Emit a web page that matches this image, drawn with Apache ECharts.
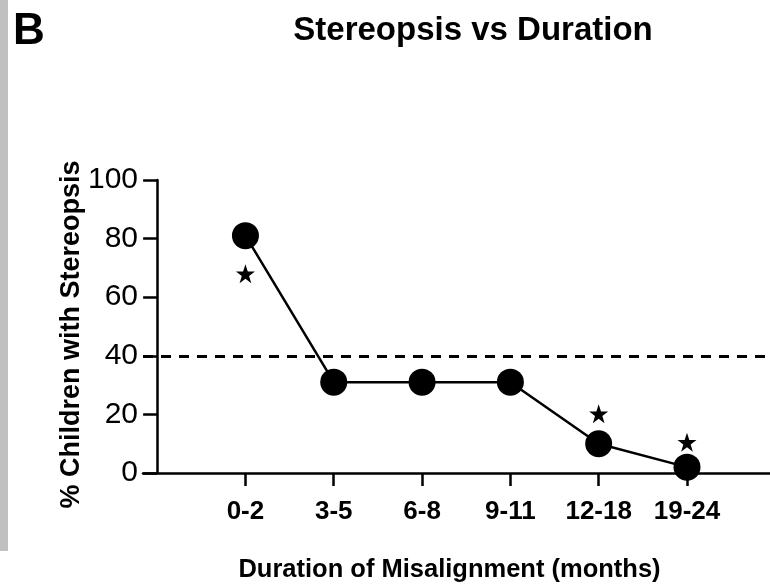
<!DOCTYPE html>
<html>
<head>
<meta charset="utf-8">
<script src="https://cdn.jsdelivr.net/npm/echarts@6/dist/echarts.min.js"></script>
<style>html,body{margin:0;padding:0;background:#fff;}#c{width:770px;height:587px;}</style>
</head>
<body>
<div id="c"></div>
<script>
const categories = ['0-2', '3-5', '6-8', '9-11', '12-18', '19-24'];
const stereoPct = [81, 31, 31, 31, 10, 2];
const significant = [true, false, false, false, true, true];
const threshold = 40;
const yTicks = [0, 20, 40, 60, 80, 100];

const FONT = '"Liberation Sans", Arial, Helvetica, sans-serif';
const chart = echarts.init(document.getElementById('c'), null, {renderer: 'canvas'});

const lineData = stereoPct.map((v, i) => [i + 1, v]);
const starOffsets = {0: 38, 4: -30, 5: -25};
const starData = [];
significant.forEach((s, i) => {
  if (s) starData.push({value: [i + 1, stereoPct[i]], symbolOffset: [0, starOffsets[i]]});
});

chart.setOption({
  animation: false,
  backgroundColor: '#ffffff',
  graphic: [
    {type: 'rect', left: 0, top: 0, shape: {x: 0, y: 0, width: 8, height: 551}, style: {fill: '#c0c0c0'}}
  ],
  title: [
    {text: 'B', left: 8, top: 5, textStyle: {fontFamily: FONT, fontSize: 44, fontWeight: 'bold', color: '#000'}},
    {text: 'Stereopsis vs Duration', left: 468, top: 9, textAlign: 'center',
     textStyle: {fontFamily: FONT, fontSize: 33, fontWeight: 'bold', color: '#000'}}
  ],
  grid: {left: 143, right: 0, top: 180, bottom: 114, containLabel: false},
  xAxis: {
    type: 'value', min: -0.16, max: 6.94,
    name: 'Duration of Misalignment (months)', nameLocation: 'middle', nameGap: 84,
    nameMoveOverlap: false,
    nameTextStyle: {fontFamily: FONT, fontSize: 25.5, fontWeight: 'bold', color: '#000', padding: [0, 14, 0, 0]},
    axisLine: {onZero: true, lineStyle: {color: '#000', width: 2.5}},
    axisTick: {show: true, customValues: [1, 2, 3, 4, 5, 6], length: 13, inside: false, lineStyle: {color: '#000', width: 2.5}},
    axisLabel: {customValues: [1, 2, 3, 4, 5, 6], margin: 26,
      formatter: v => categories[Math.round(v) - 1] || '',
      fontFamily: FONT, fontSize: 26, fontWeight: 'bold', color: '#000'},
    splitLine: {show: false}
  },
  yAxis: {
    type: 'value', min: 0, max: 100, interval: 20,
    name: '% Children with Stereopsis', nameLocation: 'middle', nameGap: 58, nameRotate: 90,
    nameMoveOverlap: false,
    nameTextStyle: {fontFamily: FONT, fontSize: 27, fontWeight: 'bold', color: '#000', padding: [0, 16, 0, 0]},
    axisLine: {show: true, onZero: true, lineStyle: {color: '#000', width: 2.5}},
    axisTick: {show: true, length: 14, lineStyle: {color: '#000', width: 2.5}},
    axisLabel: {margin: 5, fontFamily: FONT, fontSize: 30, color: '#000',
      customValues: yTicks},
    splitLine: {show: false}
  },
  series: [
    {
      type: 'line', data: lineData, symbol: 'circle', symbolSize: 27,
      itemStyle: {color: '#000'}, lineStyle: {color: '#000', width: 2.5},
      markLine: {
        silent: true, symbol: 'none', label: {show: false},
        lineStyle: {color: '#000', width: 3, type: [10, 8]},
        data: [{yAxis: threshold}]
      },
      z: 3
    },
    {
      type: 'scatter', data: starData,
      symbol: 'path://M50,0 L61.8,35 L98,35 L68.5,56.5 L79.5,91 L50,70 L20.5,91 L31.5,56.5 L2,35 L38.2,35 Z',
      symbolSize: 19, itemStyle: {color: '#000', opacity: 1}, z: 4
    }
  ]
});
</script>
</body>
</html>
